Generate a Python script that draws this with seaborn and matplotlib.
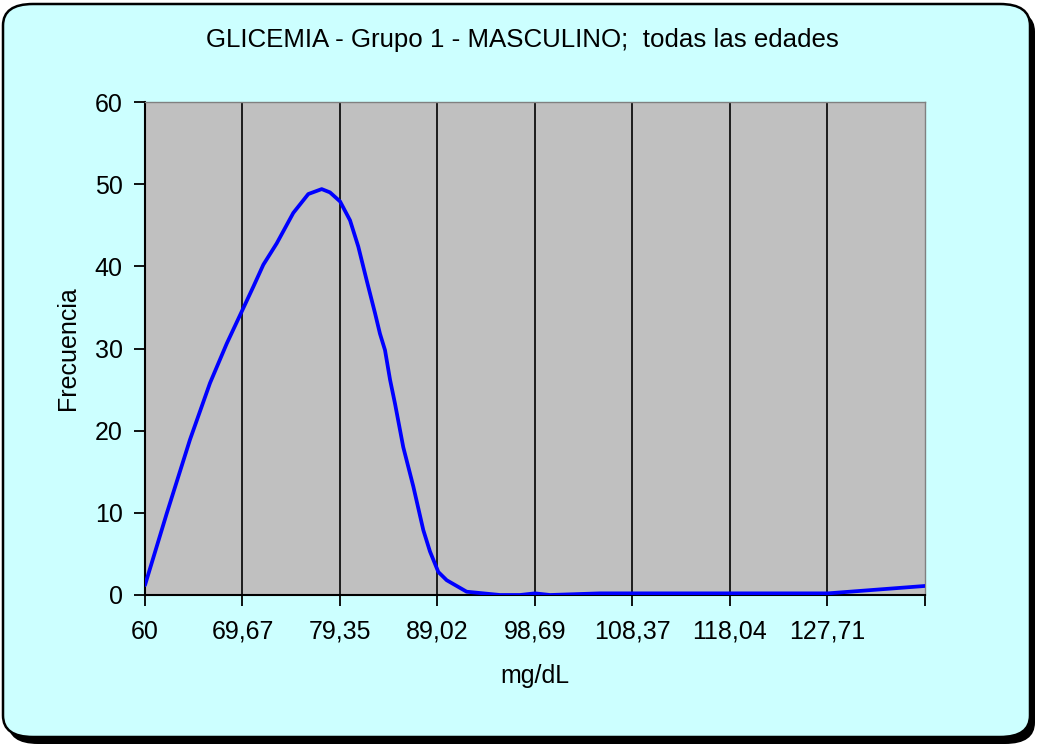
import matplotlib
matplotlib.use("Agg")
import matplotlib.pyplot as plt
from matplotlib.patches import FancyBboxPatch
import seaborn as sns
import pandas as pd

# Blood glucose readings (mg/dL) and their frequencies
glucosa = [60.0, 62.15, 64.46, 66.45, 68.11, 69.52, 70.74, 71.74, 73.07, 74.71,
           76.20, 77.53, 78.35, 79.35, 80.34, 81.16, 81.99, 82.82, 83.31, 83.81,
           84.31, 84.80, 85.62, 86.62, 87.61, 88.27, 89.10, 89.93, 91.91, 95.22,
           97.20, 98.69, 100.18, 105.14, 115.06, 127.76, 137.38]
frecuencia = [1.2, 9.9, 18.9, 25.8, 30.6, 34.3, 37.5, 40.2, 42.8, 46.5,
              48.8, 49.4, 49.0, 47.9, 45.6, 42.4, 38.3, 34.3, 31.8, 29.8,
              26.2, 23.3, 18.0, 13.2, 7.9, 5.3, 2.8, 1.8, 0.4, 0.0,
              0.0, 0.2, 0.0, 0.2, 0.2, 0.2, 1.1]

tick_vals = [60, 69.6725, 79.345, 89.0175, 98.69, 108.3625, 118.035, 127.7075, 137.38]
tick_labels = ["60", "69,67", "79,35", "89,02", "98,69", "108,37", "118,04", "127,71", ""]

titulo = "GLICEMIA - Grupo 1 - MASCULINO;  todas las edades"
etiqueta_x = "mg/dL"
etiqueta_y = "Frecuencia"

sns.set_theme(style="white")
plt.rcParams["font.family"] = ["Liberation Sans", "DejaVu Sans"]

W, H = 1039, 744
fig = plt.figure(figsize=(W / 100, H / 100), dpi=100)
fig.patch.set_facecolor("white")

# Chart frame: drop shadow, then rounded light-cyan panel
rad = 30
shadow = FancyBboxPatch((8 / W, 0 / H), (W - 12) / W, (H - 10) / H,
                        boxstyle=f"round,pad=0,rounding_size={rad / W}",
                        transform=fig.transFigure, facecolor="black",
                        edgecolor="black", lw=0, zorder=0)
panel = FancyBboxPatch((3 / W, 7 / H), (W - 12) / W, (H - 11) / H,
                       boxstyle=f"round,pad=0,rounding_size={rad / W}",
                       transform=fig.transFigure, facecolor="#CCFFFF",
                       edgecolor="black", lw=1.8, zorder=1)
fig.patches.extend([shadow, panel])

ax = fig.add_axes([145 / W, 1 - 595 / H, 780 / W, 493 / H])
ax.set_facecolor("#C0C0C0")
ax.set_zorder(2)

df = pd.DataFrame({etiqueta_x: glucosa, etiqueta_y: frecuencia})
sns.lineplot(data=df, x=etiqueta_x, y=etiqueta_y, ax=ax, sort=False,
             color="#0000FF", lw=2.7, zorder=3,
             solid_joinstyle="round", solid_capstyle="round")

ax.set_xlim(tick_vals[0], tick_vals[-1])
ax.set_ylim(0, 60)
ax.set_xticks(tick_vals)
ax.set_xticklabels(tick_labels)
ax.set_yticks(range(0, 61, 10))

for v in tick_vals[1:-1]:
    ax.axvline(v, color="black", lw=1.2, zorder=2)

for side in ["left", "bottom"]:
    ax.spines[side].set_color("black")
    ax.spines[side].set_linewidth(1.5)
for side in ["top", "right"]:
    ax.spines[side].set_color("#808080")
    ax.spines[side].set_linewidth(1.0)

ax.tick_params(axis="both", which="major", direction="out", length=8,
               width=1.3, color="black", labelsize=18, labelcolor="black",
               bottom=True, left=True)
ax.tick_params(axis="x", pad=10)
ax.tick_params(axis="y", pad=8)

ax.set_xlabel("")
ax.set_ylabel("")
fig.text(535 / W, 1 - 676 / H, etiqueta_x, ha="center", va="center",
         fontsize=18, color="black")
fig.text(68 / W, 1 - 348 / H, etiqueta_y, ha="center", va="center",
         rotation=90, fontsize=18, color="black")

fig.text(522 / W, 1 - 40 / H, titulo, ha="center", va="center",
         fontsize=18.6, color="black")

fig.savefig("out.png", dpi=100, facecolor=fig.get_facecolor())
